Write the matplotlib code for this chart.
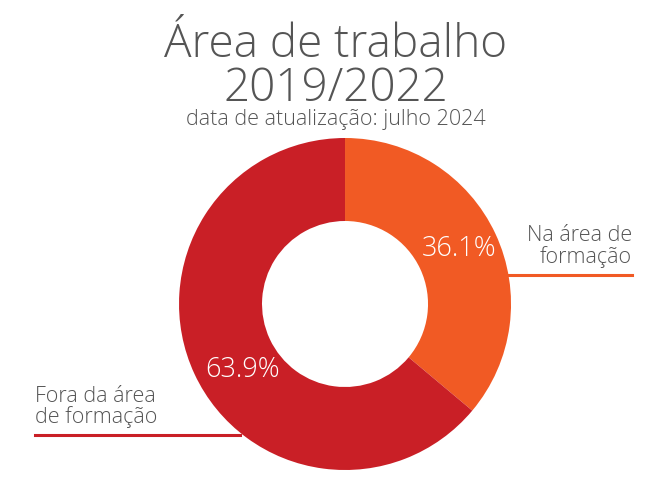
import matplotlib
matplotlib.use("Agg")
import matplotlib.pyplot as plt

labels = ["Na área de\nformação", "Fora da área\nde formação"]
values = [36.1, 63.9]
colors = ["#F15A24", "#C91F26"]
title = "Área de trabalho\n2019/2022"
subtitle = "data de atualização: julho 2024"

plt.rcParams["font.family"] = ["Open Sans", "DejaVu Sans"]
text_color = "#555555"

fig = plt.figure(figsize=(6.5, 5), dpi=100)
ax = fig.add_axes([0.2754, 0.06, 0.5108, 0.664])

wedges, _ = ax.pie(values, colors=colors, startangle=90, counterclock=False,
                   radius=1, wedgeprops=dict(width=0.5, linewidth=0))
ax.set_xlim(-1, 1)
ax.set_ylim(-1, 1)
ax.set_aspect("equal")

# percentages inside the ring
ax.text(0.69, 0.33, f"{values[0]}%", color="white", fontsize=19.5,
        fontweight="light", ha="center", va="center")
ax.text(-0.62, -0.40, f"{values[1]}%", color="white", fontsize=19.5,
        fontweight="light", ha="center", va="center")

# leader lines
ax.plot([0.98, 1.73], [0.175, 0.175], color=colors[0], lw=2.2, clip_on=False)
ax.plot([-1.87, -0.63], [-0.79, -0.79], color=colors[1], lw=2.2, clip_on=False)

ax.text(1.73, 0.215, labels[0], color=text_color, fontsize=15.5,
        fontweight="light", ha="right", va="bottom", linespacing=1.0)
ax.text(-1.87, -0.75, labels[1], color=text_color, fontsize=15.5,
        fontweight="light", ha="left", va="bottom", linespacing=1.0)

fig.text(0.517, 0.798, title, color=text_color, fontsize=33,
         fontweight="light", ha="center", va="baseline", linespacing=0.93,
         multialignment="center")
fig.text(0.517, 0.762, subtitle, color=text_color, fontsize=15.5,
         fontweight="light", ha="center", va="center")

fig.savefig("out.png", dpi=100)
